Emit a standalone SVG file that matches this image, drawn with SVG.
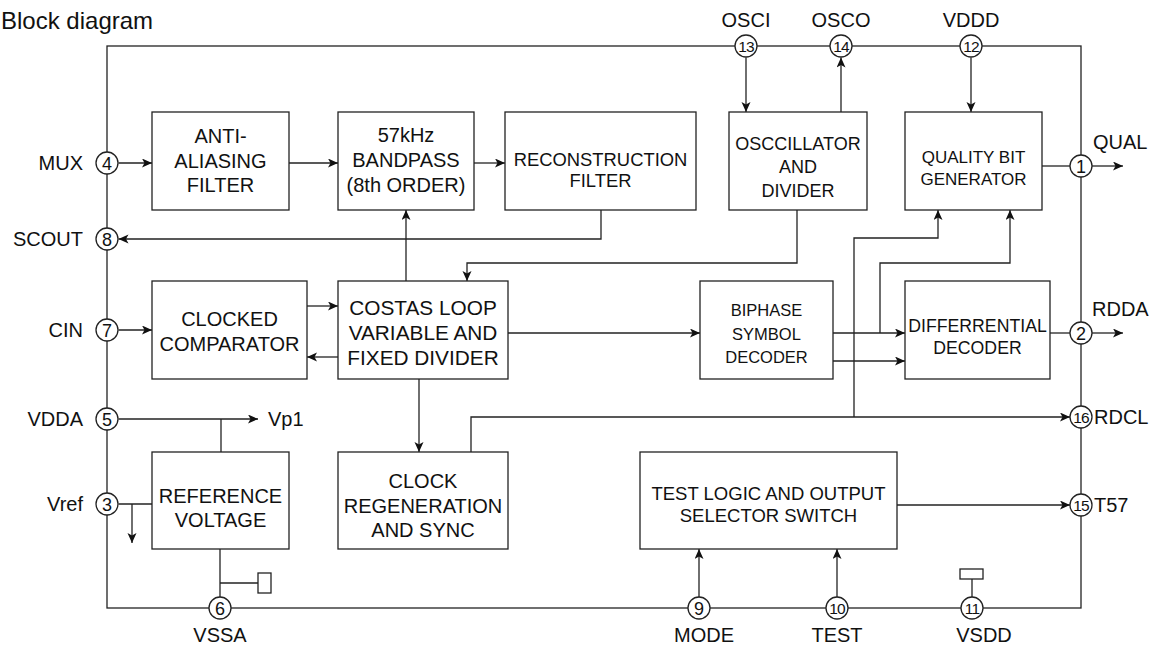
<svg xmlns="http://www.w3.org/2000/svg" width="1156" height="649" viewBox="0 0 1156 649">
<style>
text{font-family:"Liberation Sans",Arial,Helvetica,sans-serif;fill:#111}
.box{fill:#fff;stroke:#222;stroke-width:1.3}
.ln{fill:none;stroke:#222;stroke-width:1.3}
.ar{fill:none;stroke:#222;stroke-width:1.3;marker-end:url(#ah)}
.pin{fill:#fff;stroke:#222;stroke-width:1.3}
.pn{font-size:18px;text-anchor:middle}
.pn2{font-size:15.5px;text-anchor:middle;letter-spacing:-0.8px}
.pl{font-size:20px}
.bl{text-anchor:middle}
</style>
<defs>
<marker id="ah" markerUnits="userSpaceOnUse" markerWidth="12" markerHeight="10" refX="10" refY="4.5" orient="auto">
<path d="M0,0 L10,4.5 L0,9 L2.5,4.5 z" fill="#111"/>
</marker>
</defs>
<text x="1" y="29" font-size="24">Block diagram</text>
<g id="frame"><rect x="107" y="46" width="974" height="562" class="ln"/></g>
<g id="connectors">
<line x1="118.5" y1="163" x2="152" y2="163" class="ar"/>
<line x1="289" y1="163" x2="338" y2="163" class="ar"/>
<line x1="474" y1="163" x2="505" y2="163" class="ar"/>
<polyline points="601,210 601,239 118.5,239" class="ar"/>
<line x1="746" y1="57.5" x2="746" y2="112" class="ar"/>
<line x1="841" y1="112" x2="841" y2="57.5" class="ar"/>
<line x1="971" y1="57.5" x2="971" y2="112" class="ar"/>
<line x1="1042" y1="166" x2="1070" y2="166" class="ln"/>
<line x1="1092" y1="166" x2="1123" y2="166" class="ar"/>
<polyline points="797,210 797,263 467,263 467,281" class="ar"/>
<line x1="406" y1="281" x2="406" y2="210" class="ar"/>
<line x1="118.5" y1="330" x2="152" y2="330" class="ar"/>
<line x1="307" y1="306" x2="338" y2="306" class="ar"/>
<line x1="338" y1="357" x2="307" y2="357" class="ar"/>
<line x1="508" y1="333" x2="700" y2="333" class="ar"/>
<line x1="833" y1="333" x2="905" y2="333" class="ar"/>
<line x1="833" y1="361" x2="905" y2="361" class="ar"/>
<polyline points="880,333 880,263 1010,263 1010,210" class="ar"/>
<polyline points="854,417 854,238 938,238 938,210" class="ar"/>
<polyline points="471,452 471,417 1070,417" class="ar"/>
<line x1="419" y1="379" x2="419" y2="452" class="ar"/>
<line x1="1050" y1="333" x2="1070" y2="333" class="ln"/>
<line x1="1092" y1="333" x2="1123" y2="333" class="ar"/>
<line x1="118.5" y1="419" x2="258" y2="419" class="ar"/>
<line x1="221" y1="419" x2="221" y2="452" class="ln"/>
<line x1="118.5" y1="504" x2="152" y2="504" class="ln"/>
<line x1="132" y1="504" x2="132" y2="543" class="ar"/>
<line x1="220" y1="549" x2="220" y2="597" class="ln"/>
<line x1="220" y1="583" x2="258" y2="583" class="ln"/>
<rect x="258" y="573" width="13" height="20" class="box"/>
<line x1="897" y1="505" x2="1070" y2="505" class="ar"/>
<line x1="699" y1="597" x2="699" y2="549" class="ar"/>
<line x1="837" y1="597" x2="837" y2="549" class="ar"/>
<line x1="972" y1="597" x2="972" y2="579" class="ln"/>
<rect x="960" y="569" width="23" height="10" class="box"/>
</g>
<g id="anti-aliasing">
<rect x="152" y="112" width="137" height="98" class="box"/>
<text class="bl" font-size="20" x="220.5"><tspan x="220.5" y="143">ANTI-</tspan><tspan x="220.5" y="168">ALIASING</tspan><tspan x="220.5" y="192">FILTER</tspan></text>
</g>
<g id="bandpass">
<rect x="338" y="112" width="136" height="98" class="box"/>
<text class="bl" font-size="20" x="406"><tspan x="406" y="142">57kHz</tspan><tspan x="406" y="167">BANDPASS</tspan><tspan x="406" y="192">(8th ORDER)</tspan></text>
</g>
<g id="reconstruction">
<rect x="505" y="112" width="191" height="98" class="box"/>
<text class="bl" font-size="18.4" x="600.5"><tspan x="600.5" y="165.5">RECONSTRUCTION</tspan><tspan x="600.5" y="186.5">FILTER</tspan></text>
</g>
<g id="oscillator">
<rect x="729" y="112" width="138" height="98" class="box"/>
<text class="bl" font-size="18" x="798"><tspan x="798" y="149.5">OSCCILLATOR</tspan><tspan x="798" y="173">AND</tspan><tspan x="798" y="196.5">DIVIDER</tspan></text>
</g>
<g id="quality">
<rect x="905" y="112" width="137" height="98" class="box"/>
<text class="bl" font-size="17" x="973.5"><tspan x="973.5" y="163">QUALITY BIT</tspan><tspan x="973.5" y="185">GENERATOR</tspan></text>
</g>
<g id="comparator">
<rect x="152" y="281" width="155" height="98" class="box"/>
<text class="bl" font-size="20" x="229.5"><tspan x="229.5" y="326">CLOCKED</tspan><tspan x="229.5" y="351">COMPARATOR</tspan></text>
</g>
<g id="costas">
<rect x="338" y="281" width="170" height="98" class="box"/>
<text class="bl" font-size="20.8" x="423"><tspan x="423" y="314.5">COSTAS LOOP</tspan><tspan x="423" y="339.5">VARIABLE AND</tspan><tspan x="423" y="364.5">FIXED DIVIDER</tspan></text>
</g>
<g id="biphase">
<rect x="700" y="281" width="133" height="98" class="box"/>
<text class="bl" font-size="16.5" x="766.5"><tspan x="766.5" y="316">BIPHASE</tspan><tspan x="766.5" y="340">SYMBOL</tspan><tspan x="766.5" y="363">DECODER</tspan></text>
</g>
<g id="differential">
<rect x="905" y="281" width="145" height="98" class="box"/>
<text class="bl" font-size="17.7" x="977.5"><tspan x="977.5" y="331.5">DIFFERRENTIAL</tspan><tspan x="977.5" y="353.5">DECODER</tspan></text>
</g>
<g id="reference">
<rect x="152" y="452" width="137" height="97" class="box"/>
<text class="bl" font-size="20" x="220.5"><tspan x="220.5" y="503">REFERENCE</tspan><tspan x="220.5" y="527">VOLTAGE</tspan></text>
</g>
<g id="clockregen">
<rect x="338" y="452" width="170" height="97" class="box"/>
<text class="bl" font-size="20" x="423"><tspan x="423" y="488">CLOCK</tspan><tspan x="423" y="513">REGENERATION</tspan><tspan x="423" y="537">AND SYNC</tspan></text>
</g>
<g id="testlogic">
<rect x="640" y="452" width="257" height="97" class="box"/>
<text class="bl" font-size="18.5" x="768.5"><tspan x="768.5" y="499.5">TEST LOGIC AND OUTPUT</tspan><tspan x="768.5" y="521.5">SELECTOR SWITCH</tspan></text>
</g>
<g id="pin4"><circle cx="107" cy="163" r="11" class="pin"/><text class="pn" x="107" y="169.5">4</text><text class="pl" x="83" y="170" text-anchor="end">MUX</text></g>
<g id="pin8"><circle cx="107" cy="239" r="11" class="pin"/><text class="pn" x="107" y="245.5">8</text><text class="pl" x="83" y="246" text-anchor="end">SCOUT</text></g>
<g id="pin7"><circle cx="107" cy="330" r="11" class="pin"/><text class="pn" x="107" y="336.5">7</text><text class="pl" x="83" y="337" text-anchor="end">CIN</text></g>
<g id="pin5"><circle cx="107" cy="419" r="11" class="pin"/><text class="pn" x="107" y="425.5">5</text><text class="pl" x="83" y="426" text-anchor="end">VDDA</text><text class="pl" x="268" y="426">Vp1</text></g>
<g id="pin3"><circle cx="107" cy="504" r="11" class="pin"/><text class="pn" x="107" y="510.5">3</text><text class="pl" x="83" y="511" text-anchor="end">Vref</text></g>
<g id="pin6"><circle cx="220" cy="608" r="11" class="pin"/><text class="pn" x="220" y="614.5">6</text><text class="pl" x="220" y="642" text-anchor="middle">VSSA</text></g>
<g id="pin9"><circle cx="699" cy="608" r="11" class="pin"/><text class="pn" x="699" y="614.5">9</text><text class="pl" x="704" y="642" text-anchor="middle">MODE</text></g>
<g id="pin10"><circle cx="837" cy="608" r="11" class="pin"/><text class="pn2" x="837" y="613.5">10</text><text class="pl" x="837" y="642" text-anchor="middle">TEST</text></g>
<g id="pin11"><circle cx="972" cy="608" r="11" class="pin"/><text class="pn2" x="972" y="613.5">11</text><text class="pl" x="984" y="642" text-anchor="middle">VSDD</text></g>
<g id="pin13"><circle cx="746" cy="46" r="11" class="pin"/><text class="pn2" x="746" y="51.5">13</text><text class="pl" x="746" y="27" text-anchor="middle">OSCI</text></g>
<g id="pin14"><circle cx="841" cy="46" r="11" class="pin"/><text class="pn2" x="841" y="51.5">14</text><text class="pl" x="841" y="27" text-anchor="middle">OSCO</text></g>
<g id="pin12"><circle cx="971" cy="46" r="11" class="pin"/><text class="pn2" x="971" y="51.5">12</text><text class="pl" x="971" y="27" text-anchor="middle">VDDD</text></g>
<g id="pin1"><circle cx="1081" cy="166" r="11" class="pin"/><text class="pn" x="1081" y="172.5">1</text><text class="pl" x="1093" y="149">QUAL</text></g>
<g id="pin2"><circle cx="1081" cy="333" r="11" class="pin"/><text class="pn" x="1081" y="339.5">2</text><text class="pl" x="1092" y="316">RDDA</text></g>
<g id="pin16"><circle cx="1081" cy="417" r="11" class="pin"/><text class="pn2" x="1081" y="422.5">16</text><text class="pl" x="1094" y="424">RDCL</text></g>
<g id="pin15"><circle cx="1081" cy="505" r="11" class="pin"/><text class="pn2" x="1081" y="510.5">15</text><text class="pl" x="1094" y="512">T57</text></g>
</svg>
